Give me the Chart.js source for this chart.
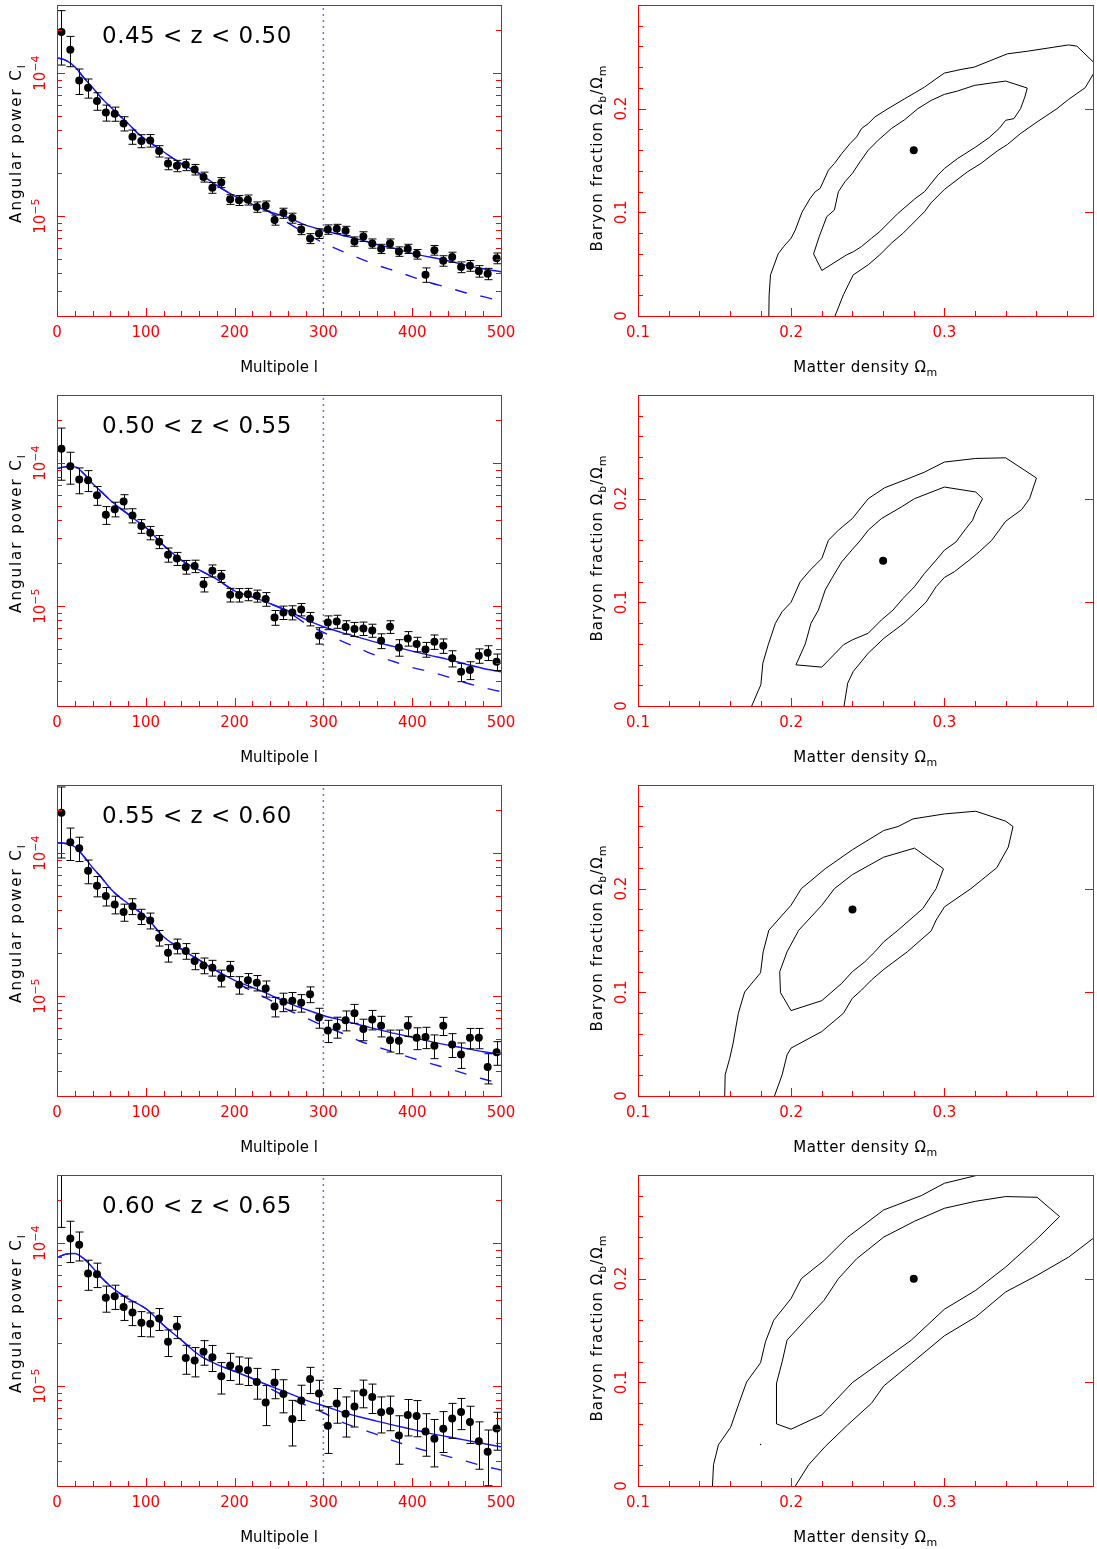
<!DOCTYPE html>
<html>
<head>
<meta charset="utf-8">
<script src="https://cdn.jsdelivr.net/npm/chart.js@4.4.1/dist/chart.umd.min.js"></script>
<style>
  html, body { margin: 0; padding: 0; background: #fff; overflow: hidden; }
  body { position: relative; width: 1097px; height: 1549px; }
</style>
</head>
<body>
<script>
// ---- data -------------------------------------------------------------
const UNIT = 1e-6;   // power values below are in units of 1e-6

const zBins = ['0.45 < z < 0.50', '0.50 < z < 0.55', '0.55 < z < 0.60', '0.60 < z < 0.65'];

const multipoles = [5,15,25,35,45,55,65,75,85,95,105,115,125,135,145,155,165,175,185,195,
  205,215,225,235,245,255,265,275,285,295,305,315,325,335,345,355,365,375,385,395,
  405,415,425,435,445,455,465,475,485,495];

const modelL = [0,10,20,30,40,50,60,70,80,90,100,120,140,160,180,200,220,240,260,280,
  300,320,340,360,380,400,420,440,460,480,500];

const spectrumXTicks = [0, 100, 200, 300, 400, 500];
const powerTicks = [1e-5, 1e-4];
const powerTickLabels = [[['10'], ['\u22125', 'sup']], [['10'], ['\u22124', 'sup']]];
const powerRange = [2e-6, 3e-4];
const cutL = 300;

const densityTicks = [0.1, 0.2, 0.3];
const fractionTicks = [0, 0.1, 0.2];
const fractionTickLabels = [[['0']], [['0.1']], [['0.2']]];

// 0.45 < z < 0.50
const power045 = [194,146,89,79,64,53,52,44.5,35.9,33.6,33.8,28.5,23.3,22.5,22.9,21.2,18.8,15.8,17.2,13.1,
  12.9,13.0,11.6,11.8,9.4,10.5,9.7,8.07,6.98,7.56,8.07,8.15,7.89,6.65,7.21,6.44,5.91,6.44,5.66,5.91,
  5.42,3.89,5.78,4.87,5.17,4.40,4.50,4.12,3.95,5.08];
const error045 = [80,35,18,12.1,9.0,6.8,5.9,5.1,4.1,3.5,3.4,2.6,2.2,2.05,2.1,1.8,1.5,1.36,1.38,1.02,
  1.04,1.05,0.97,0.95,0.76,0.85,0.78,0.65,0.56,0.59,0.61,0.61,0.59,0.50,0.56,0.48,0.44,0.48,0.43,0.44,
  0.42,0.45,0.45,0.41,0.42,0.38,0.39,0.38,0.36,0.44];
const full045 = [128,123,111,93.3,79.4,67.2,58.2,50.8,44.5,38.5,34.4,28.2,23.3,19.9,16.4,13.8,12.1,10.7,9.79,8.65,
  7.98,7.37,6.87,6.33,5.94,5.48,5.17,4.87,4.54,4.28,4.08];
const linear045 = [128,123,111,93.3,79.4,67.2,58.2,50.8,44.5,38.5,34.4,28.2,23.3,19.9,16.4,13.8,12.1,10.6,8.98,7.56,
  6.51,5.72,5.08,4.54,4.15,3.76,3.42,3.17,2.91,2.73,2.54];

// 0.50 < z < 0.55
const power050 = [126,95.3,76.9,76.0,59.7,43.5,47.7,54.0,43.1,36.3,32.6,28.2,22.9,21.5,18.8,19.05,14.2,17.7,16.2,12.0,
  11.97,12.1,11.8,11.2,8.33,9.03,9.03,9.48,8.15,6.24,7.69,7.81,7.13,6.91,6.98,6.76,5.72,7.17,5.14,5.94,
  5.42,4.98,5.63,5.28,4.31,3.47,3.57,4.50,4.72,4.08];
const error050 = [50,24,15.8,12.7,9.0,6.2,5.6,6.2,4.9,4.0,3.5,2.95,2.6,2.25,2.07,1.9,1.64,1.71,1.56,1.32,
  1.29,1.2,1.14,1.23,0.99,0.97,1.02,0.94,0.88,0.82,0.85,0.82,0.77,0.78,0.75,0.71,0.68,0.73,0.68,0.69,
  0.63,0.59,0.65,0.61,0.56,0.51,0.51,0.52,0.56,0.54];
const full050 = [91.8,94.3,94.3,84.7,72.1,63.0,55.1,49.0,44.0,39.5,35.5,26.7,21.0,17.9,15.4,12.8,11.6,10.4,9.28,8.07,
  7.17,6.55,6.04,5.57,5.20,4.84,4.52,4.24,3.93,3.66,3.47];
const linear050 = [91.8,94.3,94.3,84.7,72.1,63.0,55.1,49.0,44.0,39.5,35.5,26.7,21.0,17.9,15.4,12.8,11.6,10.4,9.13,7.56,
  6.55,5.72,5.06,4.50,4.08,3.72,3.47,3.20,2.91,2.69,2.52];

// 0.55 < z < 0.60
const power055 = [191.5,119.4,108.4,75.3,59.1,50.1,43.8,38.7,42.6,36.1,33.8,25.6,20.1,22.4,20.7,17.6,16.4,15.8,13.4,15.6,
  12.0,12.9,12.4,11.3,8.47,9.13,9.28,8.98,10.3,7.09,5.75,6.10,6.79,7.60,5.88,6.87,6.20,4.92,4.87,6.20,
  5.11,5.17,4.50,6.20,4.59,3.91,5.11,5.11,3.19,4.04];
const error055 = [99,30.5,21,14.2,9.6,7.4,6.2,5.3,5.4,4.4,4.3,3.2,2.8,2.65,2.6,2.3,2.07,2.0,1.8,1.89,
  1.68,1.49,1.53,1.46,1.32,1.35,1.32,1.26,1.30,1.13,1.02,1.02,1.08,1.15,1.01,1.07,1.02,0.86,0.92,0.97,
  0.89,0.88,0.85,0.90,0.87,0.79,0.83,0.83,0.76,0.76];
const full055 = [118,117,111,95.3,79.4,67.6,56.6,49.5,44.5,40.0,35.9,26.0,21.3,17.9,15.0,12.9,11.5,10.2,8.98,8.07,
  7.32,6.79,6.30,5.88,5.48,5.14,4.82,4.54,4.31,4.08,3.93];
const linear055 = [118,117,111,95.3,79.4,67.6,56.6,49.5,44.5,40.0,35.9,26.0,21.3,17.9,15.0,12.7,10.8,9.38,8.02,7.06,
  6.20,5.54,4.87,4.42,4.04,3.68,3.38,3.12,2.86,2.63,2.45];

// 0.60 < z < 0.65
const power060 = [350,107.8,97.4,61.4,60.7,41.5,42.6,35.7,32.7,27.7,27.3,29.7,20.4,26.1,15.7,15.1,17.4,15.95,11.7,13.95,
  13.15,12.9,10.7,7.69,10.6,8.79,5.88,7.94,11.2,8.88,5.28,7.56,6.40,7.21,9.03,8.38,6.55,6.69,4.52,6.27,
  6.17,4.82,4.28,5.03,5.94,6.58,5.60,4.12,3.47,5.06];
const error060 = [221,34.6,22.3,14.6,11.8,8.6,8.2,6.9,6.2,5.5,5.2,5.2,4.3,4.6,3.6,3.5,3.4,3.3,2.9,3.0,
  2.85,2.8,2.6,2.4,2.44,2.29,2.07,2.2,2.33,2.1,1.9,2.06,2.0,2.04,1.98,1.95,1.85,1.82,1.68,1.79,
  1.75,1.59,1.56,1.6,1.63,1.62,1.63,1.5,1.46,1.5];
const full060 = [79.4,83.8,84.7,78.1,67.6,57.5,50.1,44.9,41.0,37.9,34.9,26.7,21.0,16.5,14.2,12.7,11.3,10.0,8.98,7.98,
  7.29,6.61,6.10,5.69,5.31,4.98,4.67,4.42,4.19,3.97,3.76];
const linear060 = [79.4,83.8,84.7,78.1,67.6,57.5,50.1,44.9,41.0,37.9,34.9,26.7,21.0,16.5,14.2,12.7,11.3,9.63,8.29,7.37,
  6.51,5.63,5.06,4.59,4.12,3.76,3.47,3.22,2.99,2.76,2.59];

// confidence contours [Omega_m, Omega_b/Omega_m]
const outer045 = [[.1854,0],[.1856,.0205],[.1865,.0397],[.1915,.0599],[.1951,.0670],[.1999,.0750],[.2027,.0830],
  [.2070,.1000],[.2124,.1135],[.2157,.1199],[.2189,.1231],[.2243,.1407],[.2282,.1471],[.2330,.1567],[.2384,.1663],
  [.2427,.1728],[.2459,.1808],[.2503,.1856],[.2546,.1920],[.2632,.2000],[.2741,.2096],[.2805,.2151],[.2870,.2208],
  [.2946,.2288],[.3000,.2343],[.3108,.2378],[.3195,.2401],[.3303,.2465],[.3411,.2529],[.3541,.2554],[.3714,.2593],
  [.3811,.2615],[.3865,.2603],[.3973,.2449],[.41,.24],[.3973,.2337],[.3919,.2202],[.3811,.2090],[.3735,.2000],
  [.3605,.1872],[.3497,.1760],[.3411,.1654],[.3346,.1593],[.3238,.1471],[.3151,.1391],[.3000,.1221],[.2914,.1093],
  [.2870,.1006],[.2784,.0878],[.2730,.0798],[.2654,.0702],[.2578,.0590],[.2503,.0494],[.2405,.0397],[.2373,.0301],
  [.2341,.0205],[.2286,0]];
const inner045 = [[.2146,.0599],[.2183,.0766],[.2232,.0958],[.2282,.1022],[.2308,.1199],[.2351,.1295],[.2399,.1375],
  [.2449,.1487],[.2503,.1599],[.2568,.1696],[.2654,.1808],[.2741,.1894],[.2827,.2000],[.2914,.2080],[.3000,.2138],
  [.3086,.2170],[.3195,.2224],[.3303,.2247],[.3400,.2266],[.3541,.2199],[.3525,.2112],[.3497,.2000],[.3454,.1904],
  [.3400,.1888],[.3357,.1808],[.3292,.1721],[.3205,.1631],[.3086,.1519],[.3000,.1423],[.2957,.1359],[.2870,.1199],
  [.2805,.1128],[.2697,.0990],[.2578,.0814],[.2524,.0750],[.2459,.0670],[.2405,.0619],[.2362,.0590],[.2200,.0439]];
const best045 = [[0.28, 0.16]];

const outer050 = [[.1742,0],[.1802,.0205],[.1815,.0413],[.1850,.0590],[.1897,.0798],[.1941,.0910],[.1999,.1000],
  [.2059,.1199],[.2124,.1311],[.2200,.1423],[.2243,.1599],[.2308,.1696],[.2399,.1808],[.2503,.2000],[.2611,.2106],
  [.2762,.2192],[.2870,.2256],[.3000,.2353],[.3205,.2388],[.3400,.2394],[.3601,.2199],[.3556,.2000],[.3504,.1894],
  [.3400,.1782],[.3309,.1599],[.3227,.1487],[.3162,.1407],[.3065,.1295],[.3000,.1240],[.2946,.1151],[.2881,.1003],
  [.2805,.0894],[.2736,.0798],[.2606,.0654],[.2503,.0510],[.2405,.0333],[.2369,.0221],[.2345,0]];
const inner050 = [[.2031,.0397],[.2092,.0599],[.2129,.0798],[.2178,.0926],[.2222,.1119],[.2265,.1231],[.2330,.1391],
  [.2399,.1510],[.2449,.1593],[.2503,.1696],[.2589,.1808],[.2719,.1920],[.2805,.2000],[.3000,.2112],[.3205,.2064],
  [.3249,.2000],[.3205,.1872],[.3184,.1792],[.3141,.1712],[.3076,.1583],[.3000,.1503],[.2946,.1407],[.2870,.1279],
  [.2805,.1151],[.2730,.1038],[.2665,.0926],[.2589,.0830],[.2503,.0702],[.2399,.0638],[.2341,.0590],[.2200,.0375]];
const best050 = [[0.26, 0.14]];

const outer055 = [[.1566,0],[.1569,.0205],[.1599,.0365],[.1621,.0510],[.1655,.0798],[.1696,.1003],[.1800,.1189],
  [.1817,.1391],[.1854,.1599],[.1999,.1840],[.2066,.2000],[.2222,.2192],[.2399,.2375],[.2604,.2561],[.2697,.2599],
  [.2795,.2673],[.3000,.2721],[.3205,.2747],[.3400,.2651],[.3448,.2599],[.3417,.2401],[.3342,.2202],[.3173,.2000],
  [.3000,.1824],[.2946,.1696],[.2914,.1593],[.2758,.1391],[.2604,.1221],[.2524,.1119],[.2459,.1022],[.2399,.0942],
  [.2341,.0798],[.2200,.0622],[.1999,.0462],[.1973,.0397],[.1941,.0205],[.1891,0]];
const inner055 = [[.1999,.0824],[.1930,.0997],[.1925,.1199],[.1973,.1391],[.2049,.1599],[.2200,.1840],[.2282,.2000],
  [.2399,.2135],[.2604,.2304],[.2805,.2391],[.2994,.2192],[.2946,.2000],[.2859,.1808],[.2697,.1599],[.2604,.1487],
  [.2546,.1391],[.2481,.1295],[.2399,.1199],[.2330,.1087],[.2200,.0920]];
const best055 = [[0.24, 0.18]];

const outer060 = [[.1486,0],[.1493,.0205],[.1525,.0397],[.1605,.0567],[.1659,.0798],[.1709,.1003],[.1800,.1189],
  [.1832,.1391],[.1886,.1599],[.1999,.1808],[.2066,.2000],[.2215,.2176],[.2369,.2401],[.2604,.2663],[.2849,.2801],
  [.3000,.2920],[.3205,.2994],[.33,.305],[.42,.32],[.41,.253],[.3973,.2391],[.3811,.2208],[.3605,.2032],[.3400,.1872],
  [.3205,.1631],[.3000,.1449],[.2784,.1183],[.2604,.0965],[.2524,.0798],[.2369,.0590],[.2222,.0381],[.2114,.0205],
  [.2027,0]];
const inner060 = [[.1904,.0599],[.1999,.0548],[.2200,.0686],[.2399,.0997],[.2604,.1215],[.2784,.1407],[.3000,.1705],
  [.3205,.1888],[.3400,.2112],[.3605,.2385],[.3752,.2599],[.3605,.2785],[.3400,.2792],[.3205,.2747],[.3000,.2679],
  [.2805,.2554],[.2604,.2401],[.2427,.2192],[.2308,.2000],[.2215,.1792],[.2092,.1599],[.1973,.1407],[.1941,.1199],
  [.1904,.0990],[.1904,.0798]];
const best060 = [[0.28, 0.20]];
const stray060 = [[0.18, 0.04]];

// ---- drawing --------------------------------------------------------
const RED = '#ff0000';
const BLUE = '#1414ff';
const FONT = '"DejaVu Sans"';
Chart.defaults.font.family = FONT;

const spectra = [
  { title: zBins[0], power: power045, error: error045, full: full045, linear: linear045 },
  { title: zBins[1], power: power050, error: error050, full: full050, linear: linear050 },
  { title: zBins[2], power: power055, error: error055, full: full055, linear: linear055 },
  { title: zBins[3], power: power060, error: error060, full: full060, linear: linear060 }
];
const contours = [
  { outer: outer045, inner: inner045, best: best045, stray: [] },
  { outer: outer050, inner: inner050, best: best050, stray: [] },
  { outer: outer055, inner: inner055, best: best055, stray: [] },
  { outer: outer060, inner: inner060, best: best060, stray: stray060 }
];

// text made of pieces; a piece is [text] or [text, 'sub'|'sup']
function richText(ctx, parts, cx, cy, angle, spacing, color) {
  ctx.save();
  ctx.translate(cx, cy);
  ctx.rotate(angle);
  ctx.letterSpacing = spacing + 'px';
  ctx.fillStyle = color || '#000';
  ctx.textAlign = 'left';
  ctx.textBaseline = 'alphabetic';
  const fonts = parts.map(p => (p[1] ? '11px ' : '15px ') + FONT);
  let total = 0;
  const widths = parts.map((p, i) => {
    ctx.font = fonts[i];
    const w = ctx.measureText(p[0]).width;
    total += w;
    return w;
  });
  let x = -total / 2;
  parts.forEach((p, i) => {
    ctx.font = fonts[i];
    const dy = p[1] === 'sub' ? 4 : p[1] === 'sup' ? -6 : 0;
    ctx.fillText(p[0], x, dy);
    x += widths[i];
  });
  ctx.restore();
}

const frame = {
  id: 'frame',
  afterDatasetsDraw(chart) {
    // error bars
    const { ctx, chartArea: a, scales: { x, y } } = chart;
    chart.data.datasets.forEach(ds => {
      if (!ds.errors) return;
      ctx.save();
      ctx.beginPath();
      ctx.rect(a.left, a.top, a.right - a.left, a.bottom - a.top);
      ctx.clip();
      ctx.strokeStyle = '#000';
      ctx.lineWidth = 1;
      ctx.beginPath();
      ds.data.forEach((p, j) => {
        const px = Math.round(x.getPixelForValue(p.x)) + 0.5;
        const top = y.getPixelForValue(p.y + ds.errors[j]);
        const bot = y.getPixelForValue(p.y - ds.errors[j]);
        ctx.moveTo(px, top); ctx.lineTo(px, bot);
        ctx.moveTo(px - 4, top); ctx.lineTo(px + 4, top);
        ctx.moveTo(px - 4, bot); ctx.lineTo(px + 4, bot);
      });
      ctx.stroke();
      ctx.restore();
    });
  },
  afterDraw(chart, args, o) {
    const { ctx, chartArea: a, scales: { x, y } } = chart;
    ctx.save();
    ctx.strokeStyle = RED;
    ctx.lineWidth = 1;
    ctx.strokeRect(a.left + 0.5, a.top + 0.5, a.right - a.left, a.bottom - a.top);

    const seg = (x1, y1, x2, y2) => { ctx.moveTo(x1, y1); ctx.lineTo(x2, y2); };
    ctx.beginPath();
    if (o.kind === 'spectrum') {
      for (let v = 0; v <= 500; v += 20) {
        const px = Math.round(x.getPixelForValue(v)) + 0.5;
        seg(px, a.bottom, px, a.bottom - (v % 100 ? 5 : 8));
      }
      for (let e = -6; e <= -4; e++) {
        for (let m = 1; m <= 9; m++) {
          const v = m * Math.pow(10, e);
          if (v < y.min * 0.999 || v > y.max * 1.001) continue;
          const py = Math.round(y.getPixelForValue(v)) + 0.5;
          const len = m === 1 ? 8 : 5;
          seg(a.left, py, a.left + len, py);
          seg(a.right, py, a.right - len, py);
        }
      }
    } else {
      for (let k = 5; k <= 19; k++) {
        const px = Math.round(x.getPixelForValue(k * 0.02)) + 0.5;
        seg(px, a.bottom, px, a.bottom - (k % 5 ? 5 : 8));
      }
      for (let k = 0; k <= 15; k++) {
        const py = Math.round(y.getPixelForValue(k * 0.02)) + 0.5;
        seg(a.left, py, a.left + (k % 5 ? 5 : 8), py);
        if (k === 5 || k === 10) seg(a.right, py, a.right - 8, py);
      }
    }
    ctx.stroke();
    ctx.restore();

    // rotated y tick labels
    o.yTicks.forEach((v, i) => {
      richText(ctx, o.yLabels[i], a.left - 12, y.getPixelForValue(v), -Math.PI / 2, 0, RED);
    });

    // axis titles
    richText(ctx, o.xTitle, (a.left + a.right) / 2, a.bottom + 56, 0, o.xSpacing);
    richText(ctx, o.yTitle, a.left - 36, o.yCenter, -Math.PI / 2, o.ySpacing);

    // panel title
    if (o.title) {
      ctx.save();
      ctx.fillStyle = '#000';
      ctx.font = '23px ' + FONT;
      ctx.letterSpacing = '0.5px';
      ctx.textAlign = 'left';
      ctx.textBaseline = 'alphabetic';
      ctx.fillText(o.title, a.left + 45, a.top + 38);
      ctx.restore();
    }
  }
};

function makeCanvas(left, top, w, h) {
  const c = document.createElement('canvas');
  c.width = w;
  c.height = h;
  c.style.cssText = `position:absolute;left:${left}px;top:${top}px;width:${w}px;height:${h}px`;
  document.body.appendChild(c);
  return c;
}

const ROW = 390;

spectra.forEach((s, r) => {
  const canvas = makeCanvas(0, r * ROW, 545, ROW);
  new Chart(canvas, {
    type: 'line',
    data: {
      datasets: [
        {
          data: multipoles.map((l, i) => ({ x: l, y: s.power[i] * UNIT })),
          errors: s.error.map(e => e * UNIT),
          showLine: false, pointRadius: 4, pointBackgroundColor: '#000', pointBorderWidth: 0
        },
        {
          data: modelL.map((l, i) => ({ x: l, y: s.full[i] * UNIT })),
          borderColor: BLUE, borderWidth: 1.4, pointRadius: 0, cubicInterpolationMode: 'monotone'
        },
        {
          data: modelL.map((l, i) => ({ x: l, y: s.linear[i] * UNIT })),
          borderColor: BLUE, borderWidth: 1.4, borderDash: [12, 14], pointRadius: 0,
          cubicInterpolationMode: 'monotone'
        },
        {
          data: [{ x: cutL, y: powerRange[0] }, { x: cutL, y: powerRange[1] }],
          borderColor: '#6e6eff', borderWidth: 1.5, borderDash: [2, 4], pointRadius: 0
        }
      ]
    },
    options: {
      responsive: false,
      animation: false,
      events: [],
      layout: { padding: { left: 57, top: 5, right: 44, bottom: 44 } },
      plugins: {
        legend: { display: false },
        tooltip: { enabled: false },
        frame: {
          kind: 'spectrum', title: s.title,
          yTicks: powerTicks, yLabels: powerTickLabels,
          xTitle: [['Multipole l']], xSpacing: 0,
          yTitle: [['Angular power C'], ['l', 'sub']], ySpacing: 2, yCenter: 143
        }
      },
      scales: {
        x: {
          type: 'linear', min: 0, max: 500,
          grid: { display: false, drawTicks: false }, border: { display: false },
          afterBuildTicks: sc => { sc.ticks = spectrumXTicks.map(v => ({ value: v })); },
          afterFit: sc => { sc.height = 30; },
          ticks: { color: RED, padding: 8, font: { size: 15 }, maxRotation: 0, autoSkip: false }
        },
        y: {
          type: 'logarithmic', min: powerRange[0], max: powerRange[1],
          grid: { display: false, drawTicks: false }, border: { display: false },
          ticks: { display: false },
          afterFit: sc => { sc.width = 0; }
        }
      }
    },
    plugins: [frame]
  });
});

const toXY = p => ({ x: p[0], y: p[1] });

contours.forEach((c, r) => {
  const canvas = makeCanvas(560, r * ROW, 537, ROW);
  new Chart(canvas, {
    type: 'line',
    data: {
      datasets: [
        { data: c.best.map(toXY), showLine: false, pointRadius: 4, pointBackgroundColor: '#000', pointBorderWidth: 0 },
        { data: c.stray.map(toXY), showLine: false, pointRadius: 0.7, pointBackgroundColor: '#000', pointBorderWidth: 0 },
        { data: c.outer.map(toXY), borderColor: '#000', borderWidth: 1, pointRadius: 0 },
        { data: c.inner.concat([c.inner[0]]).map(toXY), borderColor: '#000', borderWidth: 1, pointRadius: 0 }
      ]
    },
    options: {
      responsive: false,
      animation: false,
      events: [],
      layout: { padding: { left: 78, top: 5, right: 1, bottom: 44 } },
      plugins: {
        legend: { display: false },
        tooltip: { enabled: false },
        frame: {
          kind: 'contour', title: null,
          yTicks: fractionTicks, yLabels: fractionTickLabels,
          xTitle: [['Matter density \u03A9'], ['m', 'sub']], xSpacing: 0.5,
          yTitle: [['Baryon fraction \u03A9'], ['b', 'sub'], ['/\u03A9'], ['m', 'sub']], ySpacing: 1, yCenter: 158
        }
      },
      scales: {
        x: {
          type: 'linear', min: 0.1, max: 0.397,
          grid: { display: false, drawTicks: false }, border: { display: false },
          afterBuildTicks: sc => { sc.ticks = densityTicks.map(v => ({ value: v })); },
          afterFit: sc => { sc.height = 30; },
          ticks: { color: RED, padding: 8, font: { size: 15 }, maxRotation: 0, autoSkip: false }
        },
        y: {
          type: 'linear', min: 0, max: 0.3,
          grid: { display: false, drawTicks: false }, border: { display: false },
          ticks: { display: false },
          afterFit: sc => { sc.width = 0; }
        }
      }
    },
    plugins: [frame]
  });
});
</script>
</body>
</html>
